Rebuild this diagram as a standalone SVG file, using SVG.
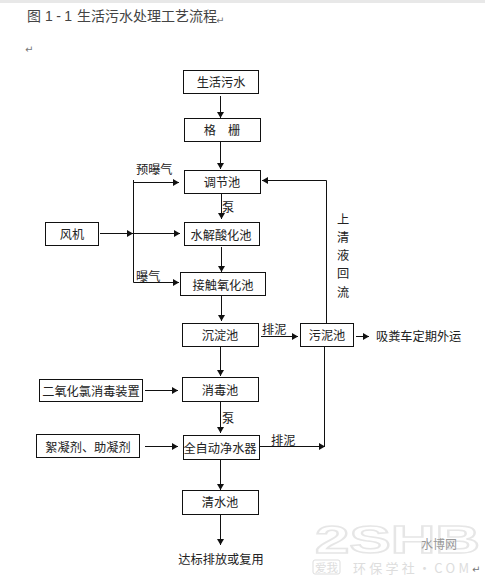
<svg xmlns="http://www.w3.org/2000/svg" width="485" height="581" viewBox="0 0 485 581">
<style>
text{font-family:"Noto Sans CJK SC","Liberation Sans",sans-serif;fill:#222;font-size:12.2px}
.c{text-anchor:middle}
.box{fill:#fff;stroke:#111;stroke-width:1}
.ln{fill:none;stroke:#111;stroke-width:1}
.ar{marker-end:url(#a)}
.t{font-size:14px;fill:#444}
.pm{font-family:"DejaVu Sans",sans-serif;font-size:10px;fill:#777}
.wm{font-family:"Liberation Sans",sans-serif;font-weight:bold;font-size:38px;fill:#fff;stroke:#e6e6e6;stroke-width:1.5}
.wm2{fill:#ddd;font-size:13px}
</style>
<defs>
<marker id="a" markerUnits="userSpaceOnUse" markerWidth="7" markerHeight="8" refX="6" refY="4" orient="auto"><path d="M0 0.500L6 4L0 7.500Z" fill="#111"/></marker>
</defs>
<rect width="485" height="581" fill="#fff"/>
<rect width="485" height="3" fill="#e8e8e8"/>
<g id="watermark">
<text class="wm" x="315" y="553" textLength="165" lengthAdjust="spacingAndGlyphs">2SHB</text>
<rect x="313" y="560" width="27" height="14" rx="2" fill="#fff" stroke="#ddd"/>
<text class="wm2" x="315" y="572" style="font-size:11.500px">爱我</text>
<text class="wm2" x="353" y="573" textLength="116">环保学社·COM</text>
<text x="421" y="549" style="font-size:12px;fill:#999">水博网</text>
</g>
<g id="title">
<text class="t" x="27" y="21">图</text>
<text class="t" x="45" y="21" textLength="27" style="font-family:'Liberation Sans',sans-serif">1-1</text>
<text class="t" x="77" y="21" textLength="140">生活污水处理工艺流程</text>
<text class="pm" x="216" y="24">↵</text>
<text class="pm" x="25" y="53">↵</text>
<text class="pm" x="472" y="573">↵</text>
</g>
<g id="connectors">
<path class="ln ar" d="M220.500 96V118"/>
<path class="ln ar" d="M220.500 142V169"/>
<path class="ln ar" d="M221.500 194V219"/>
<path class="ln ar" d="M221.500 247V272"/>
<path class="ln ar" d="M221.500 296V321"/>
<path class="ln ar" d="M220.500 347V376"/>
<path class="ln ar" d="M220.500 402V433"/>
<path class="ln ar" d="M220.500 460V490"/>
<path class="ln ar" d="M220.500 515V545"/>
<path class="ln ar" d="M100 233.500H133"/>
<path class="ln ar" d="M133.500 200V182.500H179"/>
<path class="ln ar" d="M133.500 180V282.500H179"/>
<path class="ln ar" d="M133.500 233.500H180"/>
<path class="ln ar" d="M145 390.500H178"/>
<path class="ln ar" d="M145 446.500H178"/>
<path class="ln ar" d="M261 336.500H298"/>
<path class="ln ar" d="M356 336.500H369"/>
<path class="ln ar" d="M326.500 323V180.500H262"/>
<path class="ln ar" d="M260 446.500H325"/>
<path class="ln" d="M324.500 346V447"/>
</g>
<g id="n1"><rect class="box" x="183.500" y="70.500" width="75" height="23"/><text class="c" x="221" y="87">生活污水</text></g>
<g id="n2"><rect class="box" x="184.500" y="118.500" width="76" height="23"/><text class="c" x="222" y="135">格　栅</text></g>
<g id="n3"><rect class="box" x="184.500" y="170.500" width="76" height="23"/><text class="c" x="222" y="187">调节池</text></g>
<g id="n4"><rect class="box" x="184.500" y="222.500" width="75" height="23"/><text class="c" x="221" y="240">水解酸化池</text></g>
<g id="n5"><rect class="box" x="180.500" y="272.500" width="85" height="23"/><text class="c" x="223" y="290">接触氧化池</text></g>
<g id="n6"><rect class="box" x="182.500" y="323.500" width="76" height="23"/><text class="c" x="220" y="340">沉淀池</text></g>
<g id="n7"><rect class="box" x="45.500" y="222.500" width="53" height="23"/><text class="c" x="72" y="239">风机</text></g>
<g id="n8"><rect class="box" x="300.500" y="323.500" width="53" height="23"/><text class="c" x="327" y="340">污泥池</text></g>
<g id="n9"><rect class="box" x="182.500" y="377.500" width="76" height="24"/><text class="c" x="220" y="395">消毒池</text></g>
<g id="n10"><rect class="box" x="183.500" y="435.500" width="76" height="24"/><text class="c" x="220" y="453">全自动净水器</text></g>
<g id="n11"><rect class="box" x="182.500" y="490.500" width="76" height="24"/><text class="c" x="220" y="507">清水池</text></g>
<g id="n12"><rect class="box" x="39.500" y="379.500" width="103" height="22"/><text class="c" x="91" y="396">二氧化氯消毒装置</text></g>
<g id="n13"><rect class="box" x="36.500" y="434.500" width="103" height="23"/><text class="c" x="88" y="452">絮凝剂、助凝剂</text></g>
<g id="labels">
<text x="136" y="174">预曝气</text>
<text x="136" y="281">曝气</text>
<text x="222" y="212">泵</text>
<text x="222" y="423">泵</text>
<text x="262" y="334">排泥</text>
<text x="271" y="445">排泥</text>
<text x="376" y="341">吸粪车定期外运</text>
<text class="c" x="221" y="564">达标排放或复用</text>
<text class="c" x="343" y="224">上</text>
<text class="c" x="343" y="242">清</text>
<text class="c" x="343" y="260">液</text>
<text class="c" x="343" y="278">回</text>
<text class="c" x="343" y="297">流</text>
</g>
</svg>
